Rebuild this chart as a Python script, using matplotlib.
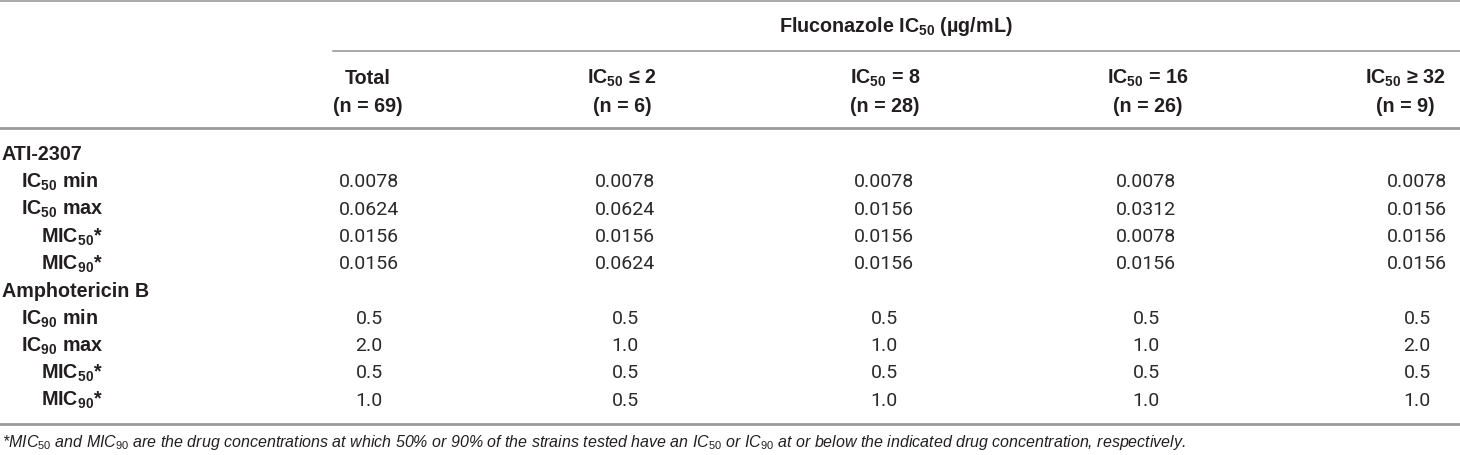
import matplotlib
matplotlib.use("Agg")
import matplotlib.pyplot as plt

plt.rcParams['font.family'] = ['Liberation Sans', 'DejaVu Sans']
plt.rcParams['mathtext.fontset'] = 'custom'
plt.rcParams['mathtext.rm'] = 'Liberation Sans'
plt.rcParams['mathtext.bf'] = 'Liberation Sans:bold'
plt.rcParams['mathtext.it'] = 'Liberation Sans:italic'

# table content
group_title = r"Fluconazole IC$_{\mathbf{50}}$ (µg/mL)"
col_heads = ["Total", r"IC$_{\mathbf{50}}$ ≤ 2", r"IC$_{\mathbf{50}}$ = 8",
             r"IC$_{\mathbf{50}}$ = 16", r"IC$_{\mathbf{50}}$ ≥ 32"]
col_counts = ["(n = 69)", "(n = 6)", "(n = 28)", "(n = 26)", "(n = 9)"]

sections = ["ATI-2307", "Amphotericin B"]
ati_labels = [r"IC$_{\mathbf{50}}$ min", r"IC$_{\mathbf{50}}$ max",
              r"MIC$_{\mathbf{50}}$*", r"MIC$_{\mathbf{90}}$*"]
ati_values = [
    ["0.0078", "0.0078", "0.0078", "0.0078", "0.0078"],
    ["0.0624", "0.0624", "0.0156", "0.0312", "0.0156"],
    ["0.0156", "0.0156", "0.0156", "0.0078", "0.0156"],
    ["0.0156", "0.0624", "0.0156", "0.0156", "0.0156"],
]
amb_labels = [r"IC$_{\mathbf{90}}$ min", r"IC$_{\mathbf{90}}$ max",
              r"MIC$_{\mathbf{50}}$*", r"MIC$_{\mathbf{90}}$*"]
amb_values = [
    ["0.5", "0.5", "0.5", "0.5", "0.5"],
    ["2.0", "1.0", "1.0", "1.0", "2.0"],
    ["0.5", "0.5", "0.5", "0.5", "0.5"],
    ["1.0", "0.5", "1.0", "1.0", "1.0"],
]
label_indent = [1, 1, 2, 2]
footnote = (r"*$\mathit{MIC}_{\mathit{50}}$ and $\mathit{MIC}_{\mathit{90}}$ are the drug concentrations "
            r"at which 50% or 90% of the strains tested have an $\mathit{IC}_{\mathit{50}}$ or "
            r"$\mathit{IC}_{\mathit{90}}$ at or below the indicated drug concentration, respectively.")

W, H = 1460, 455
fig = plt.figure(figsize=(W / 100, H / 100), dpi=100)
ax = fig.add_axes([0, 0, 1, 1])
ax.set_xlim(0, W)
ax.set_ylim(H, 0)
ax.axis('off')

fs_bold = 14.2
fs_val = 14.0
txt = '#231f20'
val_color = '#2a2a2a'
rule = '#9a9a9a'

head_x = [368, 622, 885, 1148, 1405]
val_x = [369, 625, 884, 1146, 1417]

# rules
ax.plot([0, W], [1, 1], color=rule, lw=1.2)
ax.plot([333, W], [51, 51], color=rule, lw=1.2)
ax.plot([0, W], [128, 128], color=rule, lw=2.0)
ax.plot([0, W], [424, 424], color=rule, lw=2.0)

# header
ax.text(896, 27, group_title, ha='center', va='center', fontsize=fs_bold,
        fontweight='bold', color=txt)
for hx, h, n in zip(head_x, col_heads, col_counts):
    ax.text(hx, 78, h, ha='center', va='center', fontsize=fs_bold,
            fontweight='bold', color=txt)
    ax.text(hx, 106, n, ha='center', va='center', fontsize=fs_bold,
            fontweight='bold', color=txt)

# body
indent_px = {0: 2, 1: 21, 2: 41}
y0, dy = 155, 27.3
row = 0
for sec, labels, values in [(sections[0], ati_labels, ati_values),
                            (sections[1], amb_labels, amb_values)]:
    ax.text(indent_px[0], y0 + row * dy, sec, ha='left', va='center',
            fontsize=fs_bold, fontweight='bold', color=txt)
    row += 1
    for lab, ind, vals in zip(labels, label_indent, values):
        y = y0 + row * dy
        ax.text(indent_px[ind], y, lab, ha='left', va='center',
                fontsize=fs_bold, fontweight='bold', color=txt)
        for vx, v in zip(val_x, vals):
            ax.text(vx, y, v, ha='center', va='center', fontsize=fs_val,
                    family=['Roboto', 'Liberation Sans'], fontweight='normal',
                    color=val_color)
        row += 1

ax.text(2, 442, footnote, ha='left', va='center', fontsize=11.5,
        style='italic', color=txt)

fig.savefig('out.png', dpi=100)
